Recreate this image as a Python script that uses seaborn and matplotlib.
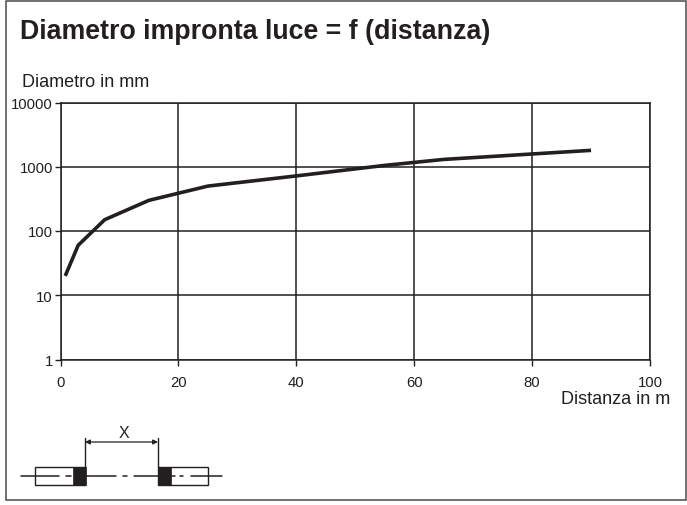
import matplotlib
matplotlib.use("Agg")
import matplotlib.pyplot as plt
from matplotlib.patches import Rectangle
import pandas as pd
import seaborn as sns

distance_m = [0.8, 3, 7.5, 15, 25, 40, 55, 65, 90]
diameter_mm = [20, 60, 150, 300, 500, 720, 1050, 1300, 1800]
x_ticks = [0, 20, 40, 60, 80, 100]
y_ticks = [1, 10, 100, 1000, 10000]
y_tick_labels = ["1", "10", "100", "1000", "10000"]
title = "Diametro impronta luce = f (distanza)"
y_title = "Diametro in mm"
x_title = "Distanza in m"

W, H = 687, 506
INK = "#231f20"
sns.set_theme(style="white")
plt.rcParams["font.family"] = ["Liberation Sans", "DejaVu Sans"]

fig = plt.figure(figsize=(W / 100, H / 100), dpi=100, facecolor="white")

# Pixel-space overlay for the frame, headings and the schematic
bg = fig.add_axes([0, 0, 1, 1], zorder=0)
bg.set_xlim(0, W)
bg.set_ylim(H - 1, -1)
bg.axis("off")
bg.add_patch(Rectangle((6, 1), 680, 499, fill=False, ec="#4a4a4a", lw=1.1))
bg.text(20, 31, title, fontsize=19.3, fontweight="bold", color=INK, va="center", ha="left")
bg.text(22, 81, y_title, fontsize=13, color=INK, va="center", ha="left")
bg.text(670, 398.5, x_title, fontsize=13, color=INK, va="center", ha="right")

# Schematic of the emitter / receiver pair
bg.plot([21, 59], [475.5, 475.5], color=INK, lw=1.1)
bg.plot([66, 71], [475.5, 475.5], color=INK, lw=1.1)
bg.plot([86, 116], [475.5, 475.5], color=INK, lw=1.1)
bg.plot([123, 127], [475.5, 475.5], color=INK, lw=1.1)
bg.plot([134, 158], [475.5, 475.5], color=INK, lw=1.1)
bg.plot([171, 175], [475.5, 475.5], color=INK, lw=1.1)
bg.plot([180, 183], [475.5, 475.5], color=INK, lw=1.1)
bg.plot([191, 222], [475.5, 475.5], color=INK, lw=1.1)
bg.add_patch(Rectangle((35, 466.5), 50, 18, fill=False, ec=INK, lw=1.0))
bg.add_patch(Rectangle((158, 466.5), 50, 18, fill=False, ec=INK, lw=1.0))
bg.add_patch(Rectangle((72.5, 466.5), 13, 18, fc=INK, ec=INK, lw=0.5))
bg.add_patch(Rectangle((158, 466.5), 13, 18, fc=INK, ec=INK, lw=0.5))
bg.plot([85, 85], [438, 466.5], color=INK, lw=1.0)
bg.plot([158, 158], [438, 466.5], color=INK, lw=1.0)
bg.annotate("", xy=(85, 442), xytext=(158, 442),
            arrowprops=dict(arrowstyle="<|-|>", color=INK, lw=0.9, mutation_scale=7,
                            shrinkA=0, shrinkB=0))
bg.text(124, 433, "X", fontsize=11.5, color=INK, ha="center", va="center")

# Main chart
left, right, top, bottom = 60.5, 650, 103.5, 360.5
ax = fig.add_axes([left / W, 1 - bottom / H, (right - left) / W, (bottom - top) / H], zorder=1)
ax.patch.set_alpha(0)
df = pd.DataFrame({"distance": distance_m, "diameter": diameter_mm})
sns.lineplot(data=df, x="distance", y="diameter", ax=ax, color=INK, lw=2.6,
             solid_joinstyle="miter", solid_capstyle="butt", errorbar=None, sort=False)
ax.set_yscale("log")
ax.set_xlim(0, 100)
ax.set_ylim(1, 10000)
ax.set_xticks(x_ticks)
ax.set_yticks(y_ticks)
ax.set_yticklabels(y_tick_labels)
ax.minorticks_off()
ax.set_xlabel("")
ax.set_ylabel("")
ax.grid(True, color=INK, lw=1.1)
ax.set_axisbelow(True)
for s in ax.spines.values():
    s.set_visible(True)
    s.set_color(INK)
    s.set_linewidth(1.1)
ax.tick_params(axis="both", length=4, width=1.0, color=INK, labelcolor=INK,
               labelsize=10.7, bottom=True, left=True)
ax.tick_params(axis="x", pad=7)
ax.tick_params(axis="y", pad=1.5)

fig.savefig("out.png", dpi=100)
